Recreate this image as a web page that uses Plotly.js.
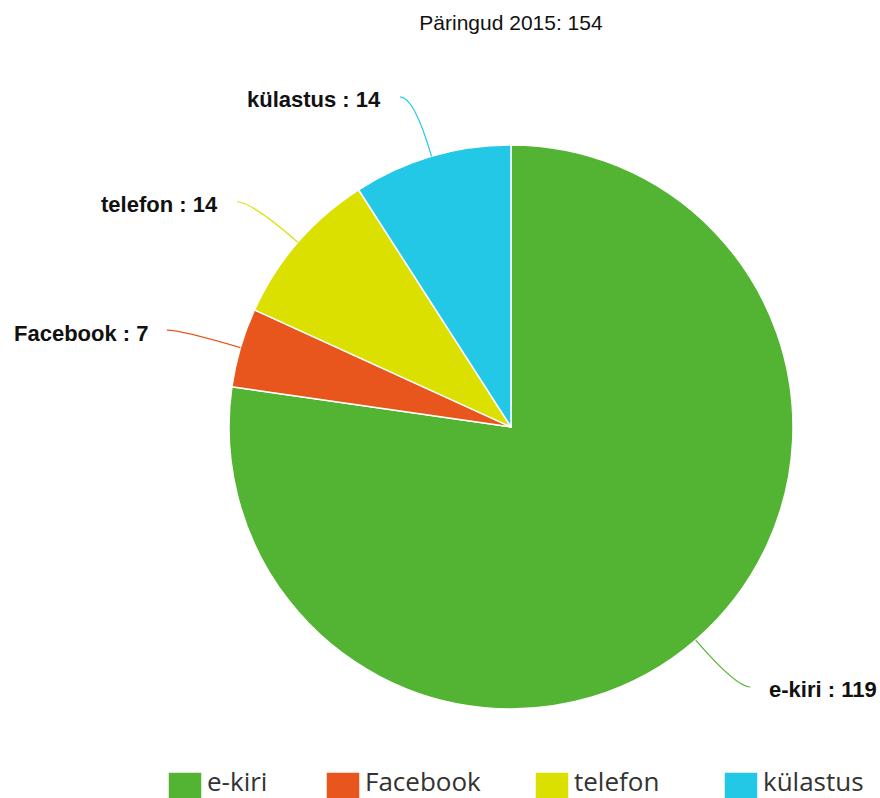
<!DOCTYPE html>
<html>
<head>
<meta charset="utf-8">
<script src="https://cdn.plot.ly/plotly-3.0.1.min.js"></script>
<style>html,body{margin:0;padding:0;background:#fff;}#chart{width:880px;height:798px;}</style>
</head>
<body>
<div id="chart"></div>
<script>
// ---- data ----
const titleText = 'Päringud 2015: 154';
const categories = ['e-kiri', 'Facebook', 'telefon', 'külastus'];
const values = [119, 7, 14, 14];
const colors = ['#53b434', '#e8561e', '#dce000', '#23c8e6'];

// ---- layout geometry ----
const W = 880, H = 798;
const M = {l: 229, r: 87, t: 145, b: 89, autoexpand: false};
const plotW = W - M.l - M.r, plotH = H - M.t - M.b;
const R = Math.min(plotW, plotH) / 2;
const CX = M.l + plotW / 2, CY = M.t + plotH / 2;
const toPX = x => (x - M.l) / plotW;
const toPY = y => (H - M.b - y) / plotH;

// connector/label placement derived from slice mid-angles
const total = values.reduce((a, b) => a + b, 0);
const shapes = [], annotations = [];
let cum = 0;
values.forEach((v, i) => {
  const mid = (cum + v / 2) / total * 2 * Math.PI; // clockwise from top
  cum += v;
  const sx = Math.sin(mid), sy = -Math.cos(mid);
  const side = sx >= 0 ? 1 : -1;
  const S = [CX + R * sx, CY + R * sy];
  const B = [CX + (R + 62) * sx, CY + (R + 62) * sy];
  const E = [B[0] + side * 14, B[1]];
  shapes.push({
    type: 'path', xref: 'paper', yref: 'paper',
    path: `M${toPX(S[0])},${toPY(S[1])} Q${toPX(B[0])},${toPY(B[1])} ${toPX(E[0])},${toPY(E[1])}`,
    line: {color: colors[i], width: 1.2}
  });
  annotations.push({
    xref: 'paper', yref: 'paper',
    x: toPX(E[0] + side * 17), y: toPY(E[1] + 3),
    xanchor: side > 0 ? 'left' : 'right', yanchor: 'middle',
    showarrow: false,
    text: `${categories[i]} : ${values[i]}`,
    font: {family: 'Liberation Sans, Arial, sans-serif', size: 22, color: '#111', weight: 'bold'}
  });
});

const data = [{
  type: 'pie',
  labels: categories,
  values: values,
  sort: false,
  direction: 'clockwise',
  rotation: 0,
  textinfo: 'none',
  hoverinfo: 'label+value',
  marker: {colors: colors, line: {color: '#ffffff', width: 1.5}}
}];

const layout = {
  width: W, height: H,
  margin: M,
  paper_bgcolor: '#ffffff',
  title: {
    text: titleText,
    font: {family: 'Liberation Sans, Arial, sans-serif', size: 21, color: '#111'},
    x: toPX(CX), xref: 'paper', xanchor: 'center',
    y: 1 - 23 / H, yref: 'container', yanchor: 'middle'
  },
  showlegend: true,
  legend: {
    orientation: 'h',
    xref: 'paper', yref: 'paper',
    x: toPX(150), xanchor: 'left',
    y: toPY(780), yanchor: 'middle',
    font: {family: 'Open Sans, sans-serif', size: 26, color: '#333'},
    entrywidth: 148, entrywidthmode: 'pixels',
    bgcolor: 'rgba(0,0,0,0)'
  },
  shapes: shapes,
  annotations: annotations
};

// legend item placement (styling only)
const legendSquareLeft = [168, 326, 535, 724];
const legendSquareTop = 772;
const legendTextCenterY = 781;

Plotly.newPlot('chart', data, layout, {displayModeBar: false, staticPlot: true}).then(() => {
  const host = document.getElementById('chart').getBoundingClientRect();
  document.querySelectorAll('#chart .legend g.traces').forEach((item, i) => {
    const sq = item.querySelector('path.legendpie');
    const txt = item.querySelector('text.legendtext');
    if (!sq) return;
    sq.setAttribute('d', 'M17,17H-17V-17H17Z');
    sq.setAttribute('transform', 'translate(18,0)');
    let r = sq.getBoundingClientRect();
    const m = /translate\(\s*([-\d.]+)[ ,]+([-\d.]+)/.exec(item.getAttribute('transform') || '');
    const tx = m ? parseFloat(m[1]) : 0, ty = m ? parseFloat(m[2]) : 0;
    const dx = legendSquareLeft[i] - (r.left - host.left);
    const dy = legendSquareTop - (r.top - host.top);
    item.setAttribute('transform', `translate(${tx + dx},${ty + dy})`);
    if (txt) {
      const tr = txt.getBoundingClientRect();
      const cy = tr.top - host.top + tr.height / 2;
      txt.setAttribute('transform', `translate(0,${legendTextCenterY - cy})`);
    }
  });
});
</script>
</body>
</html>
